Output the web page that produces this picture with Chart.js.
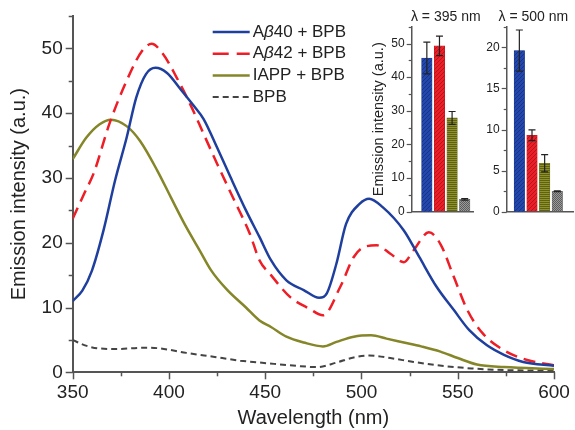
<!DOCTYPE html>
<html>
<head>
<meta charset="utf-8">
<script src="https://cdn.jsdelivr.net/npm/chart.js@4.4.1/dist/chart.umd.min.js"></script>
<style>
  body { margin: 0; background: #fff; }
  #wrap { position: relative; width: 575px; height: 430px; }
  #wrap canvas { position: absolute; }
  #main { left: 0; top: 0; }
  #inset395 { left: 360px; top: 0; }
  #inset500 { left: 478px; top: 0; }
</style>
</head>
<body>
<div id="wrap">
  <canvas id="main" width="575" height="430"></canvas>
  <canvas id="inset395" width="130" height="222"></canvas>
  <canvas id="inset500" width="97" height="222"></canvas>
</div>
<script>
// emission spectra (wavelength in nm, intensity in a.u.)
const ab40Wl  = [350, 355, 360, 366, 372, 378, 383, 388, 393, 399, 406, 413, 418, 425, 432, 440, 447, 453, 461, 470, 478, 482, 487, 492, 499, 504, 511, 522, 530, 539, 548, 556, 565, 574, 584, 600];
const ab40Int = [11.0, 12.6, 15.7, 21.9, 29.6, 36.2, 42.4, 46.0, 47.0, 46.2, 43.7, 41.1, 39.1, 34.7, 30.1, 25.0, 20.9, 17.3, 14.2, 12.7, 11.5, 12.2, 16.8, 22.9, 26.0, 26.8, 25.5, 21.9, 17.8, 13.2, 9.6, 6.5, 4.2, 2.7, 1.6, 1.0];

const ab42Wl  = [350, 356, 361, 369, 378, 386, 391, 397, 404, 411, 418, 425, 434, 442, 447, 453, 463, 473, 480, 489, 496, 501, 508, 515, 522, 527, 535, 541, 548, 555, 563, 574, 586, 600];
const ab42Int = [23.7, 27.6, 30.8, 38.3, 45.0, 49.6, 50.7, 49.1, 45.5, 41.4, 36.8, 32.2, 26.5, 21.4, 17.3, 15.0, 11.6, 9.8, 8.8, 13.2, 17.8, 19.3, 19.6, 18.3, 17.0, 18.8, 21.6, 19.8, 14.7, 9.6, 6.0, 3.4, 1.9, 1.1];

const iappWl  = [350, 357, 364, 370, 378, 385, 394, 401, 409, 416, 422, 430, 440, 447, 453, 461, 470, 480, 487, 496, 505, 513, 522, 531, 541, 550, 560, 574, 600];
const iappInt = [32.9, 36.2, 38.3, 39.0, 38.0, 35.7, 31.1, 27.0, 22.4, 18.8, 15.7, 12.8, 10.0, 8.0, 7.0, 5.5, 4.6, 4.0, 4.7, 5.5, 5.7, 5.2, 4.6, 4.0, 3.2, 2.2, 1.2, 0.8, 0.5];

const bpbWl   = [350, 356, 363, 373, 387, 395, 409, 423, 437, 451, 466, 477, 487, 496, 504, 515, 527, 539, 557, 574, 600];
const bpbInt  = [5.0, 4.2, 3.7, 3.6, 3.8, 3.7, 3.0, 2.4, 1.8, 1.4, 1.0, 0.8, 1.5, 2.3, 2.6, 2.2, 1.6, 1.1, 0.6, 0.35, 0.25];

// bar insets: intensity at the two peak wavelengths, with error
const samples   = ['Aβ40 + BPB', 'Aβ42 + BPB', 'IAPP + BPB', 'BPB'];
const peak395   = [45.7, 49.3, 27.9, 3.7];
const err395    = [4.7, 2.9, 1.9, 0.25];
const peak500   = [19.6, 9.3, 5.9, 2.5];
const err500    = [2.5, 0.65, 1.05, 0.05];

const xTicks = [350, 400, 450, 500, 550, 600];

const FONT = "'Liberation Sans', Arial, Helvetica, sans-serif";
Chart.defaults.font.family = FONT;
Chart.defaults.color = '#222';

const AXIS = '#555';
const colors = {
  ab40: '#1f3f9f',
  ab42: '#ee1d26',
  iapp: '#848628',
  bpb: '#444444'
};

const toPoints = (xs, ys) => xs.map((x, i) => ({x: x, y: ys[i]}));

// major/minor tick marks drawn from the scale's own ticks
const tickMarks = {
  id: 'tickMarks',
  afterDraw(chart, args, opts) {
    const ctx = chart.ctx;
    ctx.save();
    ctx.strokeStyle = opts.color;
    ctx.lineWidth = opts.width;
    for (const id of ['x', 'y']) {
      const cfg = opts[id];
      const s = chart.scales[id];
      if (!cfg || !s) continue;
      s.ticks.forEach(t => {
        const r = t.value / cfg.major;
        const major = Math.abs(r - Math.round(r)) < 1e-6;
        const len = major ? cfg.majorLen : cfg.minorLen;
        const p = Math.round(s.getPixelForValue(t.value)) + 0.5;
        ctx.beginPath();
        if (s.isHorizontal()) {
          ctx.moveTo(p, chart.chartArea.bottom);
          ctx.lineTo(p, chart.chartArea.bottom + len);
        } else {
          ctx.moveTo(chart.chartArea.left, p);
          ctx.lineTo(chart.chartArea.left - len, p);
        }
        ctx.stroke();
      });
    }
    ctx.restore();
  }
};

// legend with an italic beta
const spectraLegend = {
  id: 'spectraLegend',
  afterDraw(chart) {
    const ctx = chart.ctx;
    const x0 = chart.chartArea.left + 140;
    const y0 = chart.chartArea.top + 16;
    const rowH = 21.7;
    ctx.save();
    chart.data.datasets.forEach((ds, i) => {
      const y = y0 + i * rowH;
      ctx.strokeStyle = ds.borderColor;
      ctx.lineWidth = ds.borderWidth;
      ctx.setLineDash(ds.legendDash || []);
      ctx.beginPath();
      ctx.moveTo(x0, y);
      ctx.lineTo(x0 + 37, y);
      ctx.stroke();
      ctx.setLineDash([]);
      ctx.fillStyle = '#222';
      ctx.textBaseline = 'middle';
      let tx = x0 + 40;
      const parts = ds.label.split('β');
      ctx.font = '17px ' + FONT;
      if (parts.length === 2) {
        ctx.fillText(parts[0], tx, y);
        tx += ctx.measureText(parts[0]).width;
        ctx.font = 'italic 17px ' + FONT;
        ctx.fillText('β', tx, y);
        tx += ctx.measureText('β').width;
        ctx.font = '17px ' + FONT;
        ctx.fillText(parts[1], tx, y);
      } else {
        ctx.fillText(ds.label, tx, y);
      }
    });
    ctx.restore();
  }
};

new Chart(document.getElementById('main'), {
  type: 'line',
  data: {
    datasets: [
      { label: samples[0], data: toPoints(ab40Wl, ab40Int), borderColor: colors.ab40, borderWidth: 2.5 },
      { label: samples[1], data: toPoints(ab42Wl, ab42Int), borderColor: colors.ab42, borderWidth: 2.5,
        borderDash: [12, 7], legendDash: [16, 8] },
      { label: samples[2], data: toPoints(iappWl, iappInt), borderColor: colors.iapp, borderWidth: 2.5 },
      { label: samples[3], data: toPoints(bpbWl, bpbInt), borderColor: colors.bpb, borderWidth: 2,
        borderDash: [6, 4], legendDash: [6, 4] }
    ]
  },
  options: {
    responsive: false,
    animation: false,
    layout: { padding: { left: 0, top: 16, right: 21, bottom: 0 } },
    elements: { point: { radius: 0 }, line: { cubicInterpolationMode: 'monotone', fill: false } },
    plugins: {
      legend: { display: false },
      tooltip: { enabled: false },
      tickMarks: {
        color: AXIS, width: 1.5,
        x: { major: 50, majorLen: 7, minorLen: 4 },
        y: { major: 10, majorLen: 7, minorLen: 4 }
      }
    },
    scales: {
      x: {
        type: 'linear',
        min: xTicks[0],
        max: xTicks[xTicks.length - 1],
        afterFit: s => { s.height = 57.7; },
        border: { color: AXIS, width: 2 },
        grid: { drawOnChartArea: false, tickLength: 7, tickColor: 'transparent' },
        ticks: {
          stepSize: 25,
          padding: 2,
          maxRotation: 0,
          autoSkip: false,
          font: { size: 19 },
          callback: v => (xTicks.includes(v) ? v : '')
        },
        title: { display: true, text: 'Wavelength (nm)', font: { size: 20 }, padding: { top: 4, bottom: 0 } }
      },
      y: {
        min: 0,
        max: 55,
        afterFit: s => { s.width = 72.7; },
        border: { color: AXIS, width: 2 },
        grid: { drawOnChartArea: false, tickLength: 7, tickColor: 'transparent' },
        ticks: {
          stepSize: 5,
          padding: 3,
          autoSkip: false,
          font: { size: 19 },
          callback: v => (v % 10 === 0 ? v : '')
        },
        title: { display: true, text: 'Emission intensity (a.u.)', font: { size: 20 }, padding: { top: 7, bottom: 0 } }
      }
    }
  },
  plugins: [tickMarks, spectraLegend]
});

// fill patterns for the inset bars
function pattern(base, stripe, kind) {
  const c = document.createElement('canvas');
  const n = 4;
  c.width = n; c.height = n;
  const g = c.getContext('2d');
  g.fillStyle = base;
  g.fillRect(0, 0, n, n);
  g.fillStyle = stripe;
  if (kind === 'diag') {
    for (let i = 0; i < n; i++) g.fillRect(n - 1 - i, i, 1, 1);
  } else if (kind === 'horiz') {
    g.fillRect(0, 0, n, 1);
    g.fillRect(0, 2, n, 1);
  } else {
    g.fillRect(0, 0, 1, 1); g.fillRect(2, 0, 1, 1);
    g.fillRect(1, 1, 1, 1); g.fillRect(3, 1, 1, 1);
    g.fillRect(0, 2, 1, 1); g.fillRect(2, 2, 1, 1);
    g.fillRect(1, 3, 1, 1); g.fillRect(3, 3, 1, 1);
  }
  return g.createPattern(c, 'repeat');
}

const barFills = [
  pattern('#2447ad', '#173384', 'diag'),
  pattern('#ec1f28', '#b5141b', 'diag'),
  pattern('#8f9229', '#5f6115', 'horiz'),
  pattern('#9a9a9a', '#5c5c5c', 'dots')
];
const barEdges = ['#1a3690', '#c0161d', '#6a6c1c', '#666'];

// error bars and the wavelength caption for each inset
const barExtras = {
  id: 'barExtras',
  afterDatasetsDraw(chart, args, opts) {
    const ctx = chart.ctx;
    const meta = chart.getDatasetMeta(0);
    const ys = chart.scales.y;
    const vals = chart.data.datasets[0].data;
    ctx.save();
    ctx.strokeStyle = '#222';
    ctx.lineWidth = 1.2;
    meta.data.forEach((bar, i) => {
      const v = vals[i].y;
      const e = opts.errors[i];
      const top = ys.getPixelForValue(v + e);
      const bot = ys.getPixelForValue(v - e);
      ctx.beginPath();
      ctx.moveTo(bar.x, top); ctx.lineTo(bar.x, bot);
      ctx.moveTo(bar.x - 3.5, top); ctx.lineTo(bar.x + 3.5, top);
      ctx.moveTo(bar.x - 3.5, bot); ctx.lineTo(bar.x + 3.5, bot);
      ctx.stroke();
    });
    const cx = (meta.data[0].x + meta.data[meta.data.length - 1].x) / 2 - opts.captionShift;
    ctx.fillStyle = '#222';
    ctx.font = '14px ' + FONT;
    ctx.textAlign = 'center';
    ctx.textBaseline = 'middle';
    ctx.fillText(opts.caption, cx, 16.7);
    ctx.restore();
  }
};

function inset(id, values, errors, opt) {
  return new Chart(document.getElementById(id), {
    type: 'bar',
    data: {
      datasets: [{
        data: values.map((v, i) => ({x: i + 1, y: v})),
        backgroundColor: barFills,
        borderColor: barEdges,
        borderWidth: 0.6,
        barThickness: 10.5
      }]
    },
    options: {
      responsive: false,
      animation: false,
      layout: { padding: { left: 0, top: 26.7, right: opt.padRight, bottom: 4.7 } },
      plugins: {
        legend: { display: false },
        tooltip: { enabled: false },
        tickMarks: { color: AXIS, width: 1.2, y: { major: opt.major, majorLen: 5, minorLen: 3 } },
        barExtras: { errors: errors, caption: opt.caption, captionShift: opt.captionShift }
      },
      scales: {
        x: {
          type: 'linear',
          offset: false,
          min: opt.xMin,
          max: opt.xMax,
          afterFit: s => { s.height = 0; },
          border: { color: AXIS, width: 1.5 },
          grid: { display: false, drawTicks: false, offset: false },
          ticks: { display: false }
        },
        y: {
          min: 0,
          max: opt.yMax,
          afterFit: s => { s.width = opt.axisWidth; },
          border: { color: AXIS, width: 1.5 },
          grid: { drawOnChartArea: false, tickLength: 4, tickColor: 'transparent' },
          ticks: {
            stepSize: opt.minor,
            padding: 3,
            autoSkip: false,
            font: { size: 12 },
            callback: v => (Math.abs(v / opt.major - Math.round(v / opt.major)) < 1e-6 ? v : '')
          },
          title: {
            display: !!opt.yTitle,
            text: opt.yTitle || '',
            font: { size: 14.5 },
            padding: { top: 10, bottom: 0 }
          }
        }
      }
    },
    plugins: [tickMarks, barExtras]
  });
}

inset('inset395', peak395, err395, {
  yMax: 55, major: 10, minor: 5, xMin: -0.2, xMax: 4.68,
  axisWidth: 51.7, padRight: 16.7, caption: 'λ = 395 nm', captionShift: 0,
  yTitle: 'Emission intensity (a.u.)'
});
inset('inset500', peak500, err500, {
  yMax: 22.5, major: 5, minor: 2.5, xMin: 0, xMax: 5.28,
  axisWidth: 28.7, padRight: 1.5, caption: 'λ = 500 nm', captionShift: 5
});
</script>
</body>
</html>
